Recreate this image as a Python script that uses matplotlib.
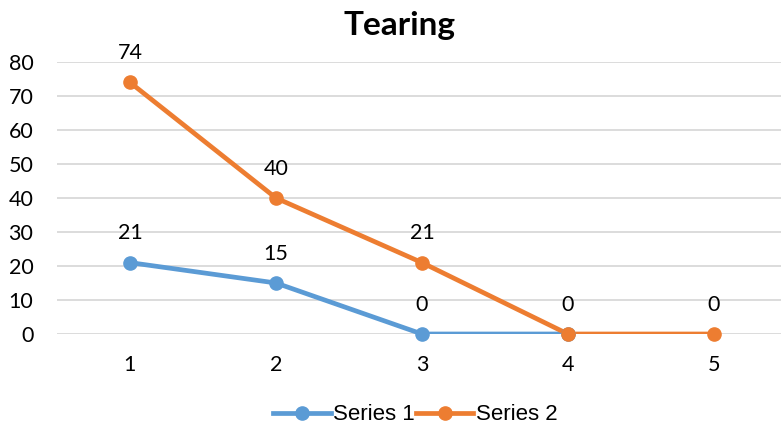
import matplotlib
matplotlib.use("Agg")
import matplotlib.pyplot as plt
from matplotlib.lines import Line2D

categories = [1, 2, 3, 4, 5]
series1 = [21, 15, 0, 0]
series2 = [74, 40, 21, 0, 0]
yticks = [0, 10, 20, 30, 40, 50, 60, 70, 80]

blue = "#5B9BD5"
orange = "#ED7D31"
grid_c = "#D9D9D9"
text_c = "#000000"

fig = plt.figure(figsize=(7.81, 4.30), dpi=100)
W, H = 781, 430
ax = fig.add_axes([57 / W, 1 - 334 / H, (781 - 57) / W, (334 - 62) / H])

ax.set_xlim(0.5, 5.46)
ax.set_ylim(0, 80)

labelled = set()
for s, c in ((series2, orange), (series1, blue)):
    xs = categories[:len(s)]
    z = 3 if c == orange else 2
    ax.plot(xs, s, color=c, lw=3.4, solid_capstyle="round", zorder=z)
    ax.plot(xs, s, ls="none", marker="o", ms=9.5, color=c, clip_on=False, zorder=z + 2)
    for x, v in zip(xs, s):
        # a shared point gets a single value label
        if (x, v) in labelled:
            continue
        labelled.add((x, v))
        ax.annotate(f"{v}", (x, v), xytext=(0, 21), textcoords="offset points",
                    ha="center", va="center", fontsize=15.5, family="Lato",
                    color=text_c, zorder=6)

ax.set_yticks(yticks)
ax.set_xticks(categories)
ax.yaxis.grid(True, color=grid_c, lw=1.3)
ax.set_axisbelow(True)
for sp in ax.spines.values():
    sp.set_visible(False)
ax.tick_params(length=0, labelsize=15.5, labelcolor=text_c)
ax.tick_params(axis="y", pad=17)
ax.tick_params(axis="x", pad=15)
for lbl in ax.get_xticklabels() + ax.get_yticklabels():
    lbl.set_family("Lato")

fig.text(400 / W, 1 - 25 / H, "Tearing", ha="center", va="center",
         fontsize=24, fontweight="bold", family="Lato", color=text_c)

handles = [
    Line2D([], [], color=blue, lw=3.4, marker="o", ms=9.5),
    Line2D([], [], color=orange, lw=3.4, marker="o", ms=9.5),
]
fig.legend(handles, ["Series 1", "Series 2"], loc="center",
           bbox_to_anchor=(415 / W, 1 - 415 / H), ncol=2, frameon=False,
           prop={"family": "Liberation Sans", "size": 16},
           handlelength=2.6, handletextpad=0.1, columnspacing=0.05)

fig.savefig("out.png", dpi=100, facecolor="white")
